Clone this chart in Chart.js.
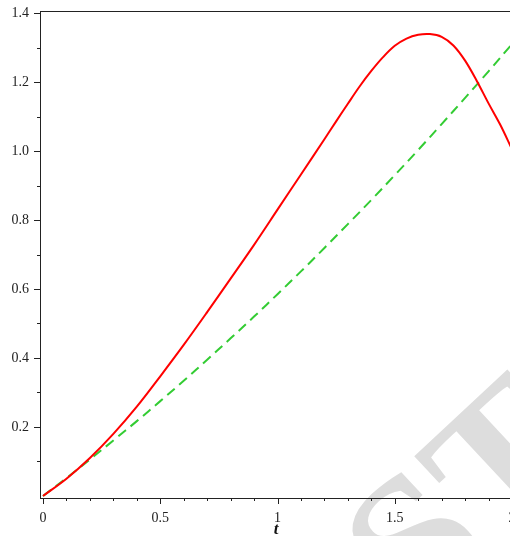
<!DOCTYPE html>
<html><head><meta charset="utf-8">
<script src="https://cdn.jsdelivr.net/npm/chart.js@4/dist/chart.umd.min.js"></script>
<style>html,body{margin:0;padding:0;overflow:hidden;background:#fff}canvas{display:block}</style>
</head><body>
<canvas id="c" width="514" height="536" style="width:514px;height:536px"></canvas>
<script>
// ---- data ----
const redT = [0,0.1,0.2,0.3,0.4,0.5,0.6,0.7,0.8,0.9,1.0,1.1,1.2,1.25,1.3,1.35,1.4,1.45,1.5,1.55,1.6,1.65,1.7,1.75,1.8,1.85,1.9,1.95,2.0];
const redY = [0,0.050,0.110,0.180,0.259,0.347,0.438,0.533,0.630,0.728,0.830,0.932,1.034,1.086,1.137,1.187,1.232,1.272,1.305,1.326,1.337,1.339,1.331,1.306,1.262,1.203,1.138,1.076,1.005];
const greenT = [0,0.1,0.2,0.3,0.4,0.5,0.6,0.7,0.8,0.9,1.0,1.1,1.2,1.3,1.4,1.5,1.6,1.7,1.8,1.9,2.0];
const greenY = [0,0.052,0.106,0.161,0.217,0.275,0.334,0.395,0.457,0.520,0.585,0.651,0.719,0.788,0.858,0.930,1.003,1.078,1.154,1.231,1.310];
const xTicks = [0,0.1,0.2,0.3,0.4,0.5,0.6,0.7,0.8,0.9,1.0,1.1,1.2,1.3,1.4,1.5,1.6,1.7,1.8,1.9,2.0];
const xLabels = {"0":"0","0.5":"0.5","1":"1","1.5":"1.5","2":"2"};
const yTicks = [0.1,0.2,0.3,0.4,0.5,0.6,0.7,0.8,0.9,1.0,1.1,1.2,1.3,1.4];
const yLabels = {"0.2":"0.2","0.4":"0.4","0.6":"0.6","0.8":"0.8","1":"1.0","1.2":"1.2","1.4":"1.4"};
const xTitle = "t";
const watermark = "STUDENT";

const AX = '#222';
const FONT = "'Liberation Serif', 'Times New Roman', serif";

const watermarkPlugin = {
  id: 'wm',
  beforeDraw(chart) {
    const ctx = chart.ctx;
    ctx.save();
    ctx.translate(420, 630);
    ctx.rotate(-43 * Math.PI / 180);
    ctx.font = "bold 200px " + FONT;
    ctx.fillStyle = '#dddddd';
    ctx.textBaseline = 'alphabetic';
    ctx.fillText(watermark, 0, 0);
    ctx.restore();
  }
};

const frame = {
  id: 'frame',
  afterDraw(chart) {
    const {ctx, chartArea, scales} = chart;
    ctx.save();
    ctx.strokeStyle = AX;
    ctx.lineWidth = 1;
    ctx.beginPath();
    ctx.moveTo(chartArea.left, chartArea.top + 0.5);
    ctx.lineTo(chartArea.right, chartArea.top + 0.5);
    ctx.moveTo(chartArea.right - 0.5, chartArea.top);
    ctx.lineTo(chartArea.right - 0.5, chartArea.bottom);
    scales.x.ticks.forEach(t => {
      const px = Math.round(scales.x.getPixelForValue(t.value)) + 0.5;
      const major = xLabels[String(t.value)] !== undefined;
      ctx.moveTo(px, chartArea.bottom);
      ctx.lineTo(px, chartArea.bottom + (major ? 6 : 3));
    });
    scales.y.ticks.forEach(t => {
      const py = Math.round(scales.y.getPixelForValue(t.value)) + 0.5;
      const major = yLabels[String(t.value)] !== undefined;
      ctx.moveTo(chartArea.left, py);
      ctx.lineTo(chartArea.left - (major ? 6 : 3), py);
    });
    ctx.stroke();
    ctx.restore();
  }
};

new Chart(document.getElementById('c'), {
  type: 'line',
  data: {
    datasets: [
      {
        data: redT.map((t, i) => ({x: t, y: redY[i]})),
        borderColor: '#ff0000', borderWidth: 2, pointRadius: 0, tension: 0.35, fill: false
      },
      {
        data: greenT.map((t, i) => ({x: t, y: greenY[i]})),
        borderColor: '#33cc33', borderWidth: 2, borderDash: [10, 6], pointRadius: 0, tension: 0.35, fill: false
      }
    ]
  },
  options: {
    responsive: false,
    animation: false,
    layout: { padding: { top: 11, right: 2, left: 0, bottom: 0 }, autoPadding: false },
    plugins: { legend: { display: false }, tooltip: { enabled: false } },
    scales: {
      x: {
        type: 'linear', min: -0.0128, max: 2,
        afterBuildTicks: s => { s.ticks = xTicks.map(v => ({value: v})); },
        afterFit: s => { s.height = 38; s.paddingLeft = 0; s.paddingRight = 0; s.paddingTop = 0; s.paddingBottom = 0; },
        grid: { display: false, drawTicks: false },
        border: { display: true, color: AX, width: 1 },
        ticks: {
          autoSkip: false, maxRotation: 0, minRotation: 0, padding: 12,
          color: '#222', font: { family: FONT, size: 14 },
          callback: v => xLabels[String(v)] ?? ''
        },
        title: { display: true, text: xTitle, color: '#111', padding: { top: 0, bottom: 0 },
          font: { family: FONT, size: 17, style: 'italic', weight: 'bold', lineHeight: 0.75 } }
      },
      y: {
        type: 'linear', min: -0.0058, max: 1.4058,
        afterBuildTicks: s => { s.ticks = yTicks.map(v => ({value: v})); },
        afterFit: s => { s.width = 40; s.paddingLeft = 0; s.paddingRight = 0; s.paddingTop = 0; s.paddingBottom = 0; },
        grid: { display: false, drawTicks: false },
        border: { display: true, color: AX, width: 1 },
        ticks: {
          autoSkip: false, padding: 11,
          color: '#222', font: { family: FONT, size: 14 },
          callback: v => yLabels[String(v)] ?? ''
        }
      }
    }
  },
  plugins: [watermarkPlugin, frame]
});
</script>
</body></html>
